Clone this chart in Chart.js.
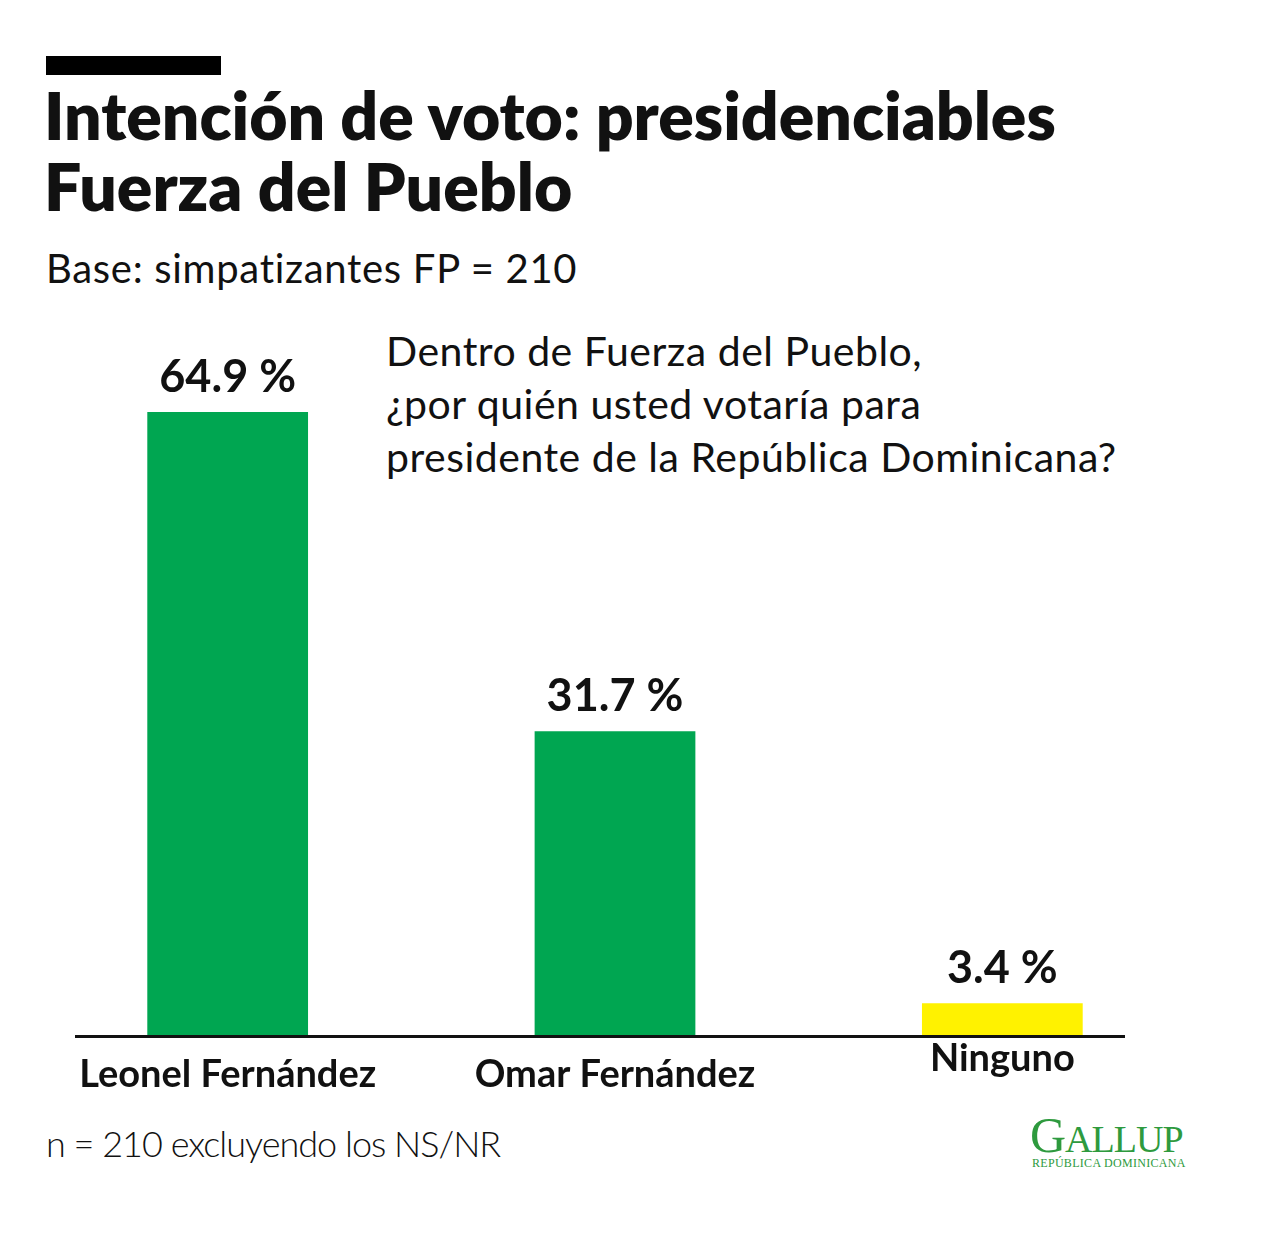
<!DOCTYPE html>
<html><head><meta charset="utf-8">
<script src="https://cdn.jsdelivr.net/npm/chart.js@4"></script>
<style>
body{margin:0;background:#fff;font-family:"Open Sans",sans-serif;}
#wrap{position:relative;width:1267px;height:1234px;overflow:hidden;}
canvas{position:absolute;left:0;top:0;}
.t{position:absolute;white-space:nowrap;color:#111;}
</style></head><body>
<div id="wrap">
<div class="t" style="left:46px;top:56px;width:175px;height:19px;background:#000"></div>
<div class="t" style="left:44px;top:79px;font:800 66px/71px Lato;letter-spacing:0px">Intención de voto: presidenciables<br>Fuerza del Pueblo</div>
<div class="t" style="left:46px;top:244px;font:400 40px Lato;letter-spacing:0.7px">Base: simpatizantes FP = 210</div>
<div class="t" style="left:386px;top:324px;font:400 41px/53px Lato;letter-spacing:0.5px">Dentro de Fuerza del Pueblo,<br>¿por quién usted votaría para<br>presidente de la República Dominicana?</div>
<div class="t" style="left:46px;top:1121px;font:300 36px Lato;letter-spacing:-1px">n = 210 excluyendo los NS/NR</div>
<div class="t" style="left:1030px;top:1106px;font:400 50px 'Liberation Serif';color:#2e9a3e;letter-spacing:-1px">G<span style="font-size:38px">ALLUP</span></div>
<div class="t" style="left:1032px;top:1156px;font:400 12px 'Liberation Serif';color:#2e9a3e;letter-spacing:0.3px">REPÚBLICA DOMINICANA</div>
<canvas id="c" width="1267" height="1234"></canvas>
</div>
<script>
const categories = ["Leonel Fernández", "Omar Fernández", "Ninguno"];
const values = [64.9, 31.7, 3.4];
const valueLabels = ["64.9 %", "31.7 %", "3.4 %"];
const colors = ["#00a651", "#00a651", "#fff200"];

const deco = {
  id: "deco",
  afterDatasetsDraw(chart) {
    const ctx = chart.ctx, meta = chart.getDatasetMeta(0), a = chart.chartArea;
    ctx.save();
    ctx.fillStyle = "#111";
    ctx.fillRect(75, a.bottom - 1, 1050, 3);
    ctx.textAlign = "center";
    meta.data.forEach((bar, i) => {
      ctx.font = "700 45px Lato";
      ctx.textBaseline = "bottom";
      ctx.fillText(valueLabels[i], bar.x, bar.y - 12);
      ctx.font = "700 38px Lato";
      ctx.textBaseline = "middle";
      ctx.fillText(categories[i], bar.x, i === 2 ? a.bottom + 23 : a.bottom + 39);
    });
    ctx.restore();
  }
};

new Chart(document.getElementById("c"), {
  type: "bar",
  data: { labels: categories, datasets: [{ data: values, backgroundColor: colors, barPercentage: 0.415, categoryPercentage: 1 }] },
  options: {
    responsive: false, animation: false,
    layout: { padding: { left: 34, right: 71, top: 363, bottom: 198 } },
    plugins: { legend: { display: false }, tooltip: { enabled: false } },
    scales: { x: { display: false }, y: { display: false, min: 0, max: 70 } }
  },
  plugins: [deco]
});
</script>
</body></html>
